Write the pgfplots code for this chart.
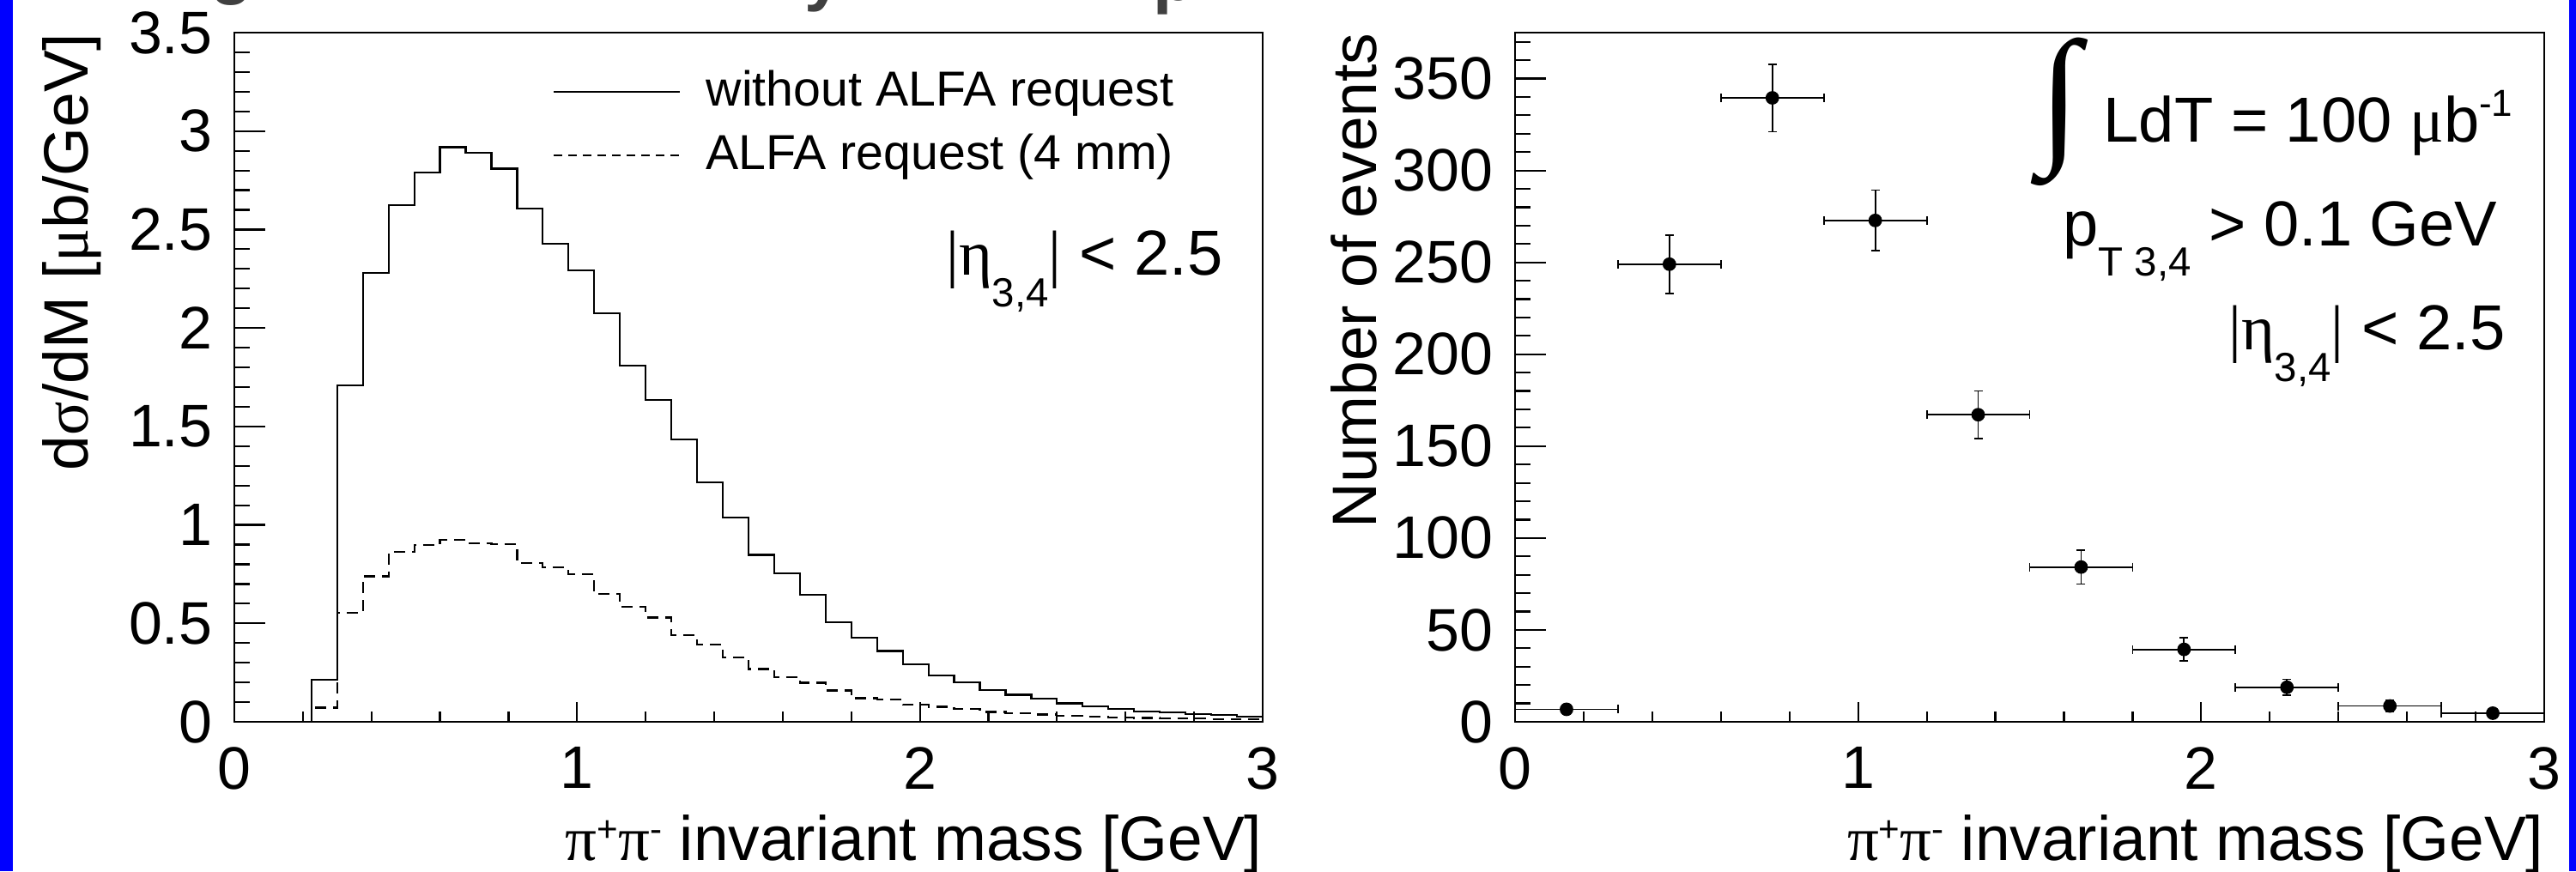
\documentclass[border=0pt]{standalone}
\usepackage{fontspec}
\setmainfont{Liberation Sans}
\newfontfamily\gr{Liberation Serif}
\usepackage{pgfplots}
\pgfplotsset{compat=1.18}
\newcommand{\fs}[1]{\fontsize{#1}{#1}\selectfont}
\newcommand{\etatext}{{\gr|η}\raisebox{-0.37cm}{\fs{13.5pt}3,4}{\gr|} {<} 2.5}

\pgfplotstableread{
x y
0.225 0
0.225 0.212
0.3 1.709
0.375 2.279
0.45 2.623
0.525 2.790
0.6 2.918
0.675 2.889
0.75 2.809
0.825 2.605
0.9 2.427
0.975 2.292
1.05 2.074
1.125 1.809
1.2 1.636
1.275 1.433
1.35 1.215
1.425 1.036
1.5 0.848
1.575 0.755
1.65 0.645
1.725 0.507
1.8 0.427
1.875 0.360
1.95 0.293
2.025 0.234
2.1 0.201
2.175 0.162
2.25 0.137
2.325 0.117
2.4 0.094
2.475 0.078
2.55 0.067
2.625 0.053
2.7 0.047
2.775 0.041
2.85 0.036
2.925 0.027
3.0 0.027
}\solid

\pgfplotstableread{
x y
0.225 0
0.225 0.072
0.3 0.552
0.375 0.739
0.45 0.862
0.525 0.898
0.6 0.923
0.675 0.907
0.75 0.904
0.825 0.805
0.9 0.783
0.975 0.748
1.05 0.650
1.125 0.583
1.2 0.530
1.275 0.440
1.35 0.391
1.425 0.327
1.5 0.268
1.575 0.228
1.65 0.198
1.725 0.159
1.8 0.120
1.875 0.115
1.95 0.086
2.025 0.076
2.1 0.064
2.175 0.050
2.25 0.042
2.325 0.037
2.4 0.031
2.475 0.027
2.55 0.023
2.625 0.020
2.7 0.019
2.775 0.016
2.85 0.014
2.925 0.012
3.0 0.012
}\dashed

\pgfplotstableread{
x y ex ey
0.15 6.8 0.15 2.6
0.45 249.0 0.15 15.8
0.75 339.5 0.15 18.4
1.05 272.8 0.15 16.5
1.35 167.1 0.15 12.9
1.65 84.2 0.15 9.2
1.95 39.4 0.15 6.3
2.25 18.8 0.15 4.3
2.55 8.6 0.15 2.9
2.85 4.7 0.15 2.2
}\events

\pgfplotsset{
  rootaxis/.style={
    anchor=south west, scale only axis,
    xmin=0, xmax=3, ymin=0,
    axis line style={line width=0.024cm},
    tick style={line width=0.022cm, black},
    tick align=inside, tick pos=left,
    xtick={0,1,2,3}, minor xtick={0,0.2,...,3},
    xtick style={/pgfplots/major tick length=0.23cm, /pgfplots/minor tick length=0.12cm},
    ytick style={/pgfplots/major tick length=0.36cm, /pgfplots/minor tick length=0.18cm},
    /pgf/number format/assume math mode=true,
    tick label style={font=\fs{19.9pt}, inner sep=0pt},
    xticklabel style={yshift=-0.29cm},
    yticklabel style={xshift=-0.25cm},
    every axis x label/.style={at={(rel axis cs:1,-0.2005)}, anchor=base east, font=\fs{20.8pt}, inner sep=0pt},
    xlabel={{\gr π}\raisebox{0.22cm}{\fs{12pt}+}{\gr π}\raisebox{0.22cm}{\fs{12pt}-} invariant mass [GeV]},
  }
}

\begin{document}
\begin{tikzpicture}[x=1cm,y=1cm]
\path[use as bounding box] (0,0) rectangle (30.01,10.15);
\fill[blue] (0,0) rectangle (0.15,10.15);
\fill[blue] (29.93,0) rectangle (30.01,10.15);
\begin{scope}
\clip (0,0) rectangle (30.01,10.15);
\node[anchor=base, inner sep=0pt, text=black!75, font=\bfseries\fs{22.8pt}] at (2.70,10.25) {g};
\node[anchor=base, inner sep=0pt, text=black!75, font=\bfseries\fs{22.8pt}] at (9.60,10.17) {y};
\node[anchor=base, inner sep=0pt, text=black!75, font=\bfseries\fs{22.8pt}] at (13.68,10.15) {p};
\end{scope}

\begin{axis}[rootaxis,
  at={(2.73cm,1.74cm)}, width=11.98cm, height=8.03cm,
  ymax=3.5, ytick={0,0.5,...,3.5}, minor ytick={0,0.1,...,3.5},
  every axis y label/.style={at={(rel axis cs:-0.1419,1)}, rotate=90, anchor=base east, font=\fs{20.8pt}, inner sep=0pt},
  ylabel={d{\gr σ}/dM [{\gr μ}b/GeV]},
]
\addplot[const plot mark left, line width=0.022cm, black] table {\solid};
\addplot[const plot mark left, line width=0.022cm, black, dash pattern=on 0.13cm off 0.08cm] table {\dashed};
\end{axis}

\draw[line width=0.02cm] (6.45,9.08) -- (7.92,9.08);
\draw[line width=0.02cm, dash pattern=on 0.10cm off 0.07cm] (6.45,8.34) -- (7.92,8.34);
\node[anchor=base west, inner sep=0pt, font=\fs{16.3pt}] at (8.22,8.92) {without ALFA request};
\node[anchor=base west, inner sep=0pt, font=\fs{16.3pt}] at (8.22,8.18) {ALFA request (4 mm)};
\node[anchor=base east, inner sep=0pt, font=\fs{21.1pt}] at (14.25,6.95) {\etatext};

\begin{axis}[rootaxis,
  at={(17.65cm,1.74cm)}, width=11.99cm, height=8.03cm,
  ymax=375, ytick={0,50,...,350}, minor ytick={0,10,...,370},
  every axis y label/.style={at={(rel axis cs:-0.1351,1)}, rotate=90, anchor=base east, font=\fs{20.8pt}, inner sep=0pt},
  ylabel={Number of events},
]
\addplot[black, only marks, mark=*, mark size=0.072cm, mark options={fill=black, draw=black},
  error bars/.cd, x dir=both, x explicit, y dir=both, y explicit,
  error bar style={line width=0.018cm, black},
  error mark options={rotate=90, mark size=0.05cm, line width=0.018cm, black}]
  table[x=x, y=y, x error=ex, y error=ey] {\events};
\end{axis}

\node[anchor=center, inner sep=0pt, font=\gr\fs{50pt}] at (24.00,8.85) {∫};
\node[anchor=base west, inner sep=0pt, font=\fs{21.1pt}] at (24.50,8.49) {LdT = 100 {\gr μ}b\raisebox{0.31cm}{\fs{12.5pt}-1}};
\node[anchor=base east, inner sep=0pt, font=\fs{21.1pt}] at (29.10,7.29) {p\raisebox{-0.35cm}{\fs{13.5pt}T 3,4} {>} 0.1 GeV};
\node[anchor=base east, inner sep=0pt, font=\fs{21.1pt}] at (29.19,6.08) {\etatext};
\end{tikzpicture}
\end{document}
